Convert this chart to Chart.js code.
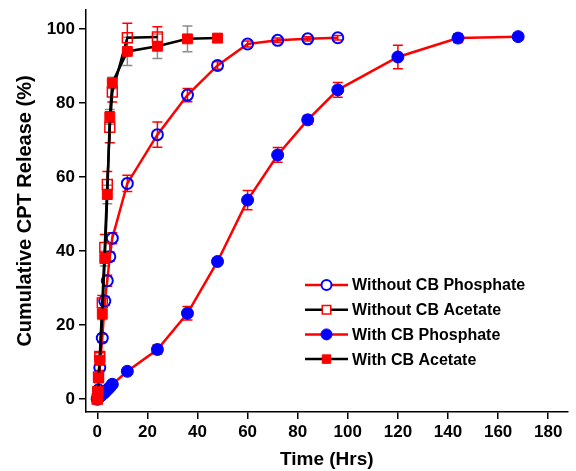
<!DOCTYPE html>
<html>
<head>
<meta charset="utf-8">
<script src="https://cdn.jsdelivr.net/npm/chart.js@4.4.1/dist/chart.umd.min.js"></script>
<style>
  html, body { margin: 0; padding: 0; background: #fff; }
  #wrap { width: 576px; height: 471px; }
</style>
</head>
<body>
<div id="wrap"><canvas id="cpt" width="576" height="471"></canvas></div>
<script>
// --- release data (time in hrs, release in %) ---
const tNoCbPhos = [0, 0.5, 1, 2, 3, 4, 5, 6, 12, 24, 36, 48, 60, 72, 84, 96];
const noCbPhos = [0, 2.5, 8.5, 16.5, 26.5, 32, 38.5, 43.5, 58.3, 71.5, 82.2, 90.2, 96, 97, 97.4, 97.7];
const noCbPhosErr = [0.3, 0.5, 0.8, 1, 1.2, 1.5, 1.2, 1.5, 2.2, 3.4, 1.8, 1, 0.8, 0.6, 0.6, 0.6];

const tNoCbAc = [0, 0.25, 0.5, 1, 2, 3, 4, 5, 6, 12, 24];
const noCbAc = [0, 2, 6, 11.5, 26, 41, 58, 73.5, 83, 97.7, 97.9];
const noCbAcErr = [0.3, 0.5, 0.8, 1, 2, 3.5, 3.5, 4.2, 2.7, 3.9, 2.8];

const tCbPhos = [0, 0.5, 1, 2, 3, 4, 5, 6, 12, 24, 36, 48, 60, 72, 84, 96, 120, 144, 168];
const cbPhos = [0, 0.3, 0.6, 1.2, 1.8, 2.5, 3.2, 4, 7.5, 13.4, 23.2, 37.2, 53.8, 66, 75.5, 83.6, 92.5, 97.6, 98];
const cbPhosErr = [0.3, 0.3, 0.4, 0.5, 0.6, 0.6, 0.7, 0.8, 0.8, 1.2, 1.8, 0.8, 2.6, 2, 1.2, 2, 3.2, 1.2, 1];

const tCbAc = [0, 0.25, 0.5, 1, 2, 3, 4, 5, 6, 12, 24, 36, 48];
const cbAc = [0, 2, 5.7, 10.5, 23, 38, 55.3, 76.3, 85.5, 94, 95.4, 97.4, 97.6];
const cbAcErr = [0.3, 0.5, 0.8, 1, 1.5, 2, 2.5, 2, 1.5, 3.8, 3.3, 3.5, 1.2];

const xTicks = [0, 20, 40, 60, 80, 100, 120, 140, 160, 180];
const yTicks = [0, 20, 40, 60, 80, 100];

const legendNames = ["Without CB Phosphate", "Without CB Acetate", "With CB Phosphate", "With CB Acetate"];

function pts(xs, ys) {
  return xs.map((x, i) => ({ x: x, y: ys[i] }));
}

const FONT = "'Liberation Sans', Arial, sans-serif";

// draws vertical error bars with caps from dataset.errors
const errorBars = {
  id: "errorBars",
  beforeDatasetsDraw(chart) {
    const ctx = chart.ctx;
    const xs = chart.scales.x, ys = chart.scales.y;
    chart.data.datasets.forEach((ds) => {
      if (!ds.errors) return;
      ctx.save();
      ctx.strokeStyle = ds.errColor;
      ctx.lineWidth = 1.5;
      ds.data.forEach((p, i) => {
        const e = ds.errors[i];
        const px = xs.getPixelForValue(p.x);
        const top = ys.getPixelForValue(p.y + e);
        const bot = ys.getPixelForValue(p.y - e);
        ctx.beginPath();
        ctx.moveTo(px, top); ctx.lineTo(px, bot);
        ctx.moveTo(px - 5, top); ctx.lineTo(px + 5, top);
        ctx.moveTo(px - 5, bot); ctx.lineTo(px + 5, bot);
        ctx.stroke();
      });
      ctx.restore();
    });
  }
};

// legend drawn inside the plot, line + marker like the original
const lineLegend = {
  id: "lineLegend",
  afterDraw(chart) {
    const ctx = chart.ctx;
    const x0 = 305, x1 = 348, tx = 352;
    let y = 285;
    legendNames.forEach((name) => {
      const ds = chart.data.datasets.find((d) => d.label === name);
      ctx.save();
      ctx.strokeStyle = ds.borderColor;
      ctx.lineWidth = ds.borderWidth;
      ctx.beginPath();
      ctx.moveTo(x0, y); ctx.lineTo(x1, y);
      ctx.stroke();
      ctx.fillStyle = ds.legendFill;
      ctx.strokeStyle = ds.pointBorderColor;
      ctx.lineWidth = ds.pointBorderWidth;
      Chart.helpers.drawPoint(ctx, {
        pointStyle: ds.pointStyle,
        radius: ds.legendRadius,
        borderWidth: ds.pointBorderWidth
      }, (x0 + x1) / 2, y);
      ctx.fillStyle = "#000";
      ctx.font = "bold 16px " + FONT;
      ctx.textBaseline = "middle";
      ctx.fillText(name, tx, y + 1);
      ctx.restore();
      y += 24.7;
    });
  }
};

const datasets = [
  {
    label: "With CB Acetate",
    data: pts(tCbAc, cbAc),
    errors: cbAcErr,
    errColor: "#8c8c8c",
    showLine: true,
    borderColor: "#000000",
    borderWidth: 2.5,
    pointStyle: "rect",
    pointRadius: 7,
    legendRadius: 6,
    legendFill: "#ff0000",
    pointBackgroundColor: "#ff0000",
    pointBorderColor: "#ff0000",
    pointBorderWidth: 1
  },
  {
    label: "Without CB Acetate",
    data: pts(tNoCbAc, noCbAc),
    errors: noCbAcErr,
    errColor: "#ff0000",
    showLine: true,
    borderColor: "#000000",
    borderWidth: 2.5,
    pointStyle: "rect",
    pointRadius: 7,
    legendRadius: 6,
    legendFill: "#ffffff",
    pointBackgroundColor: "rgba(255,255,255,0)",
    pointBorderColor: "#ff0000",
    pointBorderWidth: 1.5
  },
  {
    label: "With CB Phosphate",
    data: pts(tCbPhos, cbPhos),
    errors: cbPhosErr,
    errColor: "#ff0000",
    showLine: true,
    borderColor: "#ff0000",
    borderWidth: 2.5,
    pointStyle: "circle",
    pointRadius: 6,
    legendRadius: 5.5,
    legendFill: "#0000ff",
    pointBackgroundColor: "#0000ff",
    pointBorderColor: "#0000ff",
    pointBorderWidth: 1
  },
  {
    label: "Without CB Phosphate",
    data: pts(tNoCbPhos, noCbPhos),
    errors: noCbPhosErr,
    errColor: "#ff0000",
    showLine: true,
    borderColor: "#ff0000",
    borderWidth: 2.5,
    pointStyle: "circle",
    pointRadius: 5.5,
    legendRadius: 5,
    legendFill: "#ffffff",
    pointBackgroundColor: "rgba(255,255,255,0)",
    pointBorderColor: "#0000ff",
    pointBorderWidth: 2
  }
];

new Chart(document.getElementById("cpt"), {
  type: "scatter",
  data: { datasets: datasets },
  plugins: [errorBars, lineLegend],
  options: {
    responsive: false,
    animation: false,
    layout: { padding: { left: 0, top: 10, right: 4, bottom: 0 } },
    plugins: { legend: { display: false }, tooltip: { enabled: false } },
    elements: { line: { tension: 0 } },
    scales: {
      x: {
        type: "linear",
        min: -4.5,
        max: 187.7,
        afterFit: (s) => { s.height = 59; s.paddingLeft = 0; s.paddingRight = 0; },
        afterBuildTicks: (s) => { s.ticks = xTicks.map((v) => ({ value: v })); },
        border: { color: "#000", width: 1.5 },
        grid: { drawOnChartArea: false, color: "#000", lineWidth: 1.5, tickLength: 7 },
        ticks: { color: "#000", font: { family: FONT, size: 17, weight: "bold" }, padding: 3, maxRotation: 0 },
        title: { display: true, text: "Time (Hrs)", color: "#000", font: { family: FONT, size: 19, weight: "bold" }, padding: { top: 3, bottom: 0 } }
      },
      y: {
        type: "linear",
        min: -3.5,
        max: 105.2,
        afterFit: (s) => { s.width = 86; s.paddingTop = 0; s.paddingBottom = 0; },
        afterBuildTicks: (s) => { s.ticks = yTicks.map((v) => ({ value: v })); },
        border: { color: "#000", width: 1.5 },
        grid: { drawOnChartArea: false, color: "#000", lineWidth: 1.5, tickLength: 7 },
        ticks: { color: "#000", font: { family: FONT, size: 17, weight: "bold" }, padding: 4 },
        title: { display: true, text: "Cumulative CPT Release (%)", color: "#000", font: { family: FONT, size: 20, weight: "bold" }, padding: { top: 13, bottom: 4 } }
      }
    }
  }
});
</script>
</body>
</html>
